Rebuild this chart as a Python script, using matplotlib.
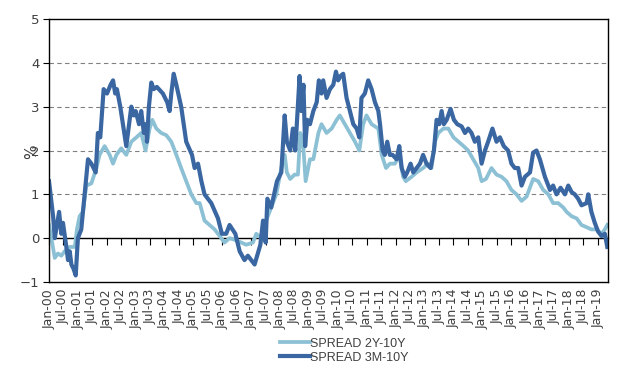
import matplotlib
matplotlib.use("Agg")
import matplotlib.pyplot as plt
import numpy as np

# Months since Jan-2000 and spread values (%)
months_3m = [0, 1.7, 2.4, 4.2, 5.1, 5.8, 7.2, 7.9, 8.6, 9.3, 10.2, 11.1, 12, 13.4, 14.8,
             16.2, 17.6, 19.4, 20.3, 21.3, 22.7, 24.1, 25.6, 26.6, 27.5, 28.2, 29.6, 31,
             32.1, 32.8, 34.2, 35.2, 36, 37.4, 38.3, 39.4, 40.1, 40.7, 41.5, 42.5, 43.5,
             44.8, 47.3, 49.1, 50.1, 50.8, 51.8, 52.9, 54.9, 57, 59.4, 60.5, 61.9, 63.3,
             64.6, 67.4, 70.2, 71.8, 73.6, 75, 77.4, 79.2, 81.2, 82.6, 85.4, 87.8, 88.9,
             90, 90.7, 92.3, 94.7, 96.5, 97.9, 98.8, 100.2, 101.3, 102.3, 104.1, 104.8,
             105.7, 106.4, 107.3, 108.4, 109.8, 111.2, 112.1, 113.2, 113.9, 115.3, 116.7,
             118.1, 119.2, 120.1, 121.1, 122.2, 123.6, 125, 126.4, 127.8, 128.9, 129.8,
             131.2, 132.6, 134, 135.4, 136.8, 137.5, 138.6, 139.5, 140.5, 141.6, 142.7,
             144.4, 145.5, 146.5, 147.8, 148.8, 150.2, 151.3, 152.7, 154.1, 155.4, 156.8,
             158.5, 159.9, 161, 162.1, 163.1, 164, 165.2, 166.8, 168.2, 169.6, 171.4,
             172.8, 174.1, 175.5, 176.9, 178.3, 179.7, 181.1, 182.4, 184.2, 185.9, 187.3,
             188.9, 190.7, 192.1, 193.5, 194.9, 196.3, 197.7, 199.8, 201.1, 202.5, 203.9,
             206, 208.1, 209.4, 210.8, 212.5, 214.3, 215.7, 217.1, 218.4, 219.8, 221.2,
             223.3, 224, 225.3, 226.7, 228.1, 229.5, 230.9, 231.9]
spread_3m10y = [1.3, 0.5, 0.0, 0.6, 0.1, 0.35, -0.2, -0.5, -0.3, -0.6, -0.7, -0.85, 0.0, 0.2, 1.0,
                1.8, 1.7, 1.5, 2.4, 2.3, 3.4, 3.3, 3.5, 3.6, 3.3, 3.4, 3.0, 2.5,
                2.1, 2.4, 3.0, 2.8, 2.9, 2.6, 2.9, 2.4, 2.6, 2.2, 3.0, 3.55, 3.4,
                3.45, 3.3, 3.1, 2.9, 3.3, 3.75, 3.5, 3.0, 2.2, 1.9, 1.6, 1.7, 1.3,
                1.0, 0.8, 0.45, 0.1, 0.1, 0.3, 0.1, -0.3, -0.5, -0.4, -0.6, -0.15, 0.4,
                -0.1, 0.9, 0.7, 1.3, 1.5, 2.8, 2.2, 2.0, 2.5, 2.0, 3.7, 2.9,
                3.5, 2.1, 2.7, 2.6, 2.9, 3.1, 3.6, 3.3, 3.6, 3.2, 3.4,
                3.5, 3.8, 3.6, 3.7, 3.75, 3.2, 2.9, 2.6, 2.5, 2.3, 3.2,
                3.3, 3.6, 3.4, 3.1, 2.9, 2.6, 2.0, 1.9, 2.2, 1.9, 1.9,
                1.8, 2.1, 1.6, 1.4, 1.5, 1.7, 1.5, 1.6, 1.7, 1.9, 1.7,
                1.6, 2.0, 2.7, 2.6, 2.9, 2.6, 2.7, 2.95, 2.7, 2.6, 2.55,
                2.4, 2.5, 2.4, 2.2, 2.3, 1.7, 2.0, 2.2, 2.5, 2.2, 2.3,
                2.1, 2.0, 1.7, 1.6, 1.6, 1.2, 1.4, 1.5, 1.95, 2.0, 1.8,
                1.4, 1.1, 1.2, 1.0, 1.15, 1.0, 1.2, 1.05, 1.0, 0.9, 0.75,
                0.8, 1.0, 0.6, 0.35, 0.15, 0.05, 0.1, -0.2]

months_2y = [0, 1, 2.4, 3.7, 5.1, 6.5, 8.6, 10.7, 11.6, 12.7, 14.1, 15.5, 17.6, 19.7, 21,
             23.1, 25.2, 26.6, 28, 30, 32.1, 34.2, 36.3, 38.3, 40.1, 41.8, 42.9, 44.6,
             46.6, 48.7, 50.8, 52.9, 54.9, 57, 59.1, 61.2, 62.6, 64.6, 66.7, 68.8, 70.9,
             72.9, 75, 77.8, 79.9, 81.9, 84.7, 86.1, 88.2, 90.2, 92.3, 94.4, 96.5, 97.9,
             98.8, 100.2, 102, 103.4, 104.4, 105.5, 106.6, 108.4, 109.8, 111.9, 113.2,
             115.3, 117.4, 119.5, 120.8, 122.9, 125, 127.1, 128.9, 130.5, 131.9, 134,
             136.8, 138.2, 140, 141.6, 143.7, 145.5, 147.1, 148.2, 150.6, 152.7, 155.4,
             157.5, 158.9, 160.3, 161.7, 163.8, 165.9, 168, 170.1, 172.2, 174.1, 176.2,
             178.3, 179.7, 181.5, 183.8, 185.9, 188, 190, 192.1, 194.2, 196.3, 198.4,
             201.1, 203.2, 205.3, 207.4, 209.4, 211.5, 213.6, 215, 217.1, 219.2, 221.2,
             223.3, 225.3, 227.4, 229.5, 230.9, 231.9]
spread_2y10y = [0.3, 0.0, -0.45, -0.35, -0.4, -0.3, -0.2, -0.2, 0.2, 0.5, 0.6, 1.2, 1.25, 1.6, 1.9,
                2.1, 1.9, 1.7, 1.9, 2.05, 1.9, 2.2, 2.3, 2.4, 2.0, 2.5, 2.7, 2.5,
                2.4, 2.35, 2.2, 1.9, 1.6, 1.3, 1.0, 0.8, 0.8, 0.4, 0.3, 0.2, 0.05,
                -0.1, 0.0, -0.05, -0.1, -0.15, -0.1, 0.1, 0.0, 0.4, 0.7, 1.0, 1.6, 1.9,
                1.5, 1.35, 1.45, 1.45, 2.4, 2.2, 1.3, 1.8, 1.8, 2.4, 2.6,
                2.4, 2.5, 2.7, 2.8, 2.6, 2.4, 2.2, 2.0, 2.6, 2.8, 2.6,
                2.5, 1.9, 1.6, 1.7, 1.7, 1.9, 1.4, 1.3, 1.4, 1.5, 1.6,
                1.7, 1.6, 2.2, 2.4, 2.5, 2.5, 2.3, 2.2, 2.1, 2.0, 1.8,
                1.6, 1.3, 1.35, 1.6, 1.45, 1.4, 1.3, 1.1, 1.0, 0.85, 0.95,
                1.35, 1.3, 1.1, 1.0, 0.8, 0.8, 0.7, 0.6, 0.5, 0.45, 0.3,
                0.25, 0.2, 0.2, 0.1, 0.2, 0.3]

years = list(range(2000, 2020))
tick_labels = []
for y in years:
    tick_labels.append(f"Jan-{y % 100:02d}")
    if y < 2019:
        tick_labels.append(f"Jul-{y % 100:02d}")

x3 = 2000 + np.array(months_3m) / 12.0
x2 = 2000 + np.array(months_2y) / 12.0
tick_pos = 2000 + np.arange(len(tick_labels)) * 0.5

dark = "#3A67A1"
light = "#8CC0D4"
txt = "#404040"

fig = plt.figure(figsize=(6.29, 3.69), dpi=100)
ax = fig.add_axes([49/629, 1-282/369, (608-49)/629, (282-19)/369])

ax.plot(x2, spread_2y10y, color=light, lw=2.7, label="SPREAD 2Y-10Y", solid_joinstyle="round")
ax.plot(x3, spread_3m10y, color=dark, lw=3.0, label="SPREAD 3M-10Y", solid_joinstyle="round")

ax.set_xlim(2000, 2000 + 232.2/12)
ax.set_ylim(-1, 5)
ax.set_yticks([-1, 0, 1, 2, 3, 4, 5])
for v in [1, 2, 3, 4]:
    ax.axhline(v, color="#808080", lw=0.8, ls=(0, (4, 3)), zorder=0)

ax.set_xticks(tick_pos)
ax.set_xticklabels(tick_labels, rotation=90, fontsize=9, color=txt, family="DejaVu Sans")
ax.tick_params(axis="x", length=0, pad=5)
ax.tick_params(axis="y", length=4, width=0.8, direction="out", labelsize=9.5, labelcolor=txt, pad=3)
for lab in ax.get_yticklabels():
    lab.set_family("DejaVu Sans")

for s in ax.spines.values():
    s.set_color("black")
    s.set_linewidth(1.0)

# axis line at y = 0 with downward ticks
sec = ax.secondary_xaxis(1/6)
sec.set_xticks(tick_pos)
sec.tick_params(axis="x", length=5, width=0.8, direction="out", labelbottom=False, labeltop=False)
sec.spines["bottom"].set_linewidth(1.0)

ax.set_ylabel("%", fontsize=11, color=txt, family="DejaVu Sans")
ax.yaxis.set_label_coords(-0.018, 0.494)

leg = fig.legend(loc="upper center", bbox_to_anchor=(0.547, 0.098), frameon=False,
                 prop={"family": "Liberation Sans", "size": 9}, handlelength=2.4,
                 handletextpad=0.05, labelspacing=0.15, borderaxespad=0)
for t in leg.get_texts():
    t.set_color(txt)

fig.savefig("out.png", dpi=100)
